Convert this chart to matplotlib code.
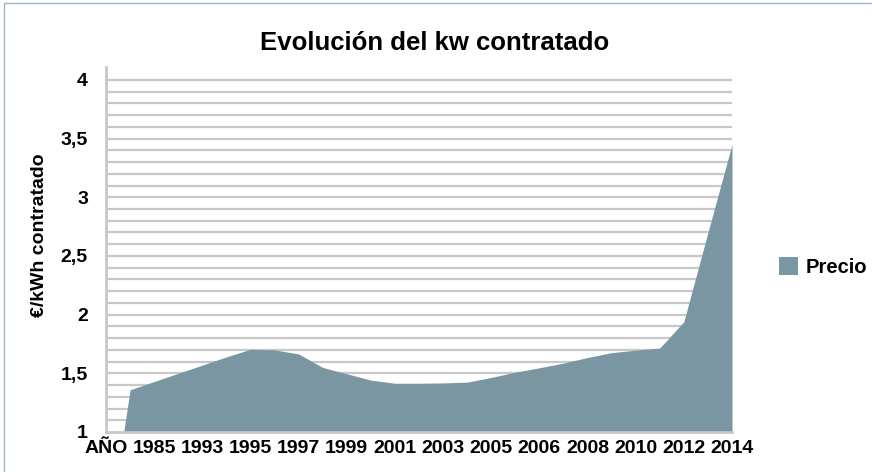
import matplotlib
matplotlib.use("Agg")
import matplotlib.pyplot as plt
from matplotlib.patches import Patch, Rectangle
import numpy as np

plt.rcParams['font.family'] = ['Liberation Sans', 'DejaVu Sans']

# Categories (labels shown every other category, as in the reference)
categories = ["AÑO", "1984", "1985", "1990", "1993", "1994", "1995", "1996", "1997",
              "1998", "1999", "2000", "2001", "2002", "2003", "2004", "2005", "2005 ",
              "2006", "2007", "2008", "2009", "2010", "2011", "2012", "2013", "2014"]
precio = [0.0, 1.36, 1.43, 1.50, 1.57, 1.64, 1.705, 1.70, 1.665,
          1.55, 1.496, 1.442, 1.415, 1.415, 1.418, 1.425, 1.465, 1.51,
          1.547, 1.587, 1.635, 1.676, 1.697, 1.715, 1.94, 2.70, 3.45]
ytick_values = [1, 1.5, 2, 2.5, 3, 3.5, 4]
ytick_labels = ["1", "1,5", "2", "2,5", "3", "3,5", "4"]

W, H = 872, 472
fig = plt.figure(figsize=(W / 100, H / 100), dpi=100)

# outer frame (top and left edges visible)
fig.patches.append(Rectangle((4 / W, -0.1), 1.2, (H - 3) / H + 0.1, transform=fig.transFigure,
                             fill=False, edgecolor='#9fb3c3', linewidth=1.0))

left, right, top, bottom = 106, 732, 67, 432
ax = fig.add_axes([left / W, (H - bottom) / H, (right - left) / W, (bottom - top) / H])

x = np.arange(len(categories))
area_color = '#7a96a2'
ax.fill_between(x, 0, precio, color=area_color, linewidth=0, zorder=3)

ax.set_xlim(0, len(categories) - 1)
ax.set_ylim(1, 4.11)

# gridlines every 0.1 up to 4
minor = np.round(np.arange(1.1, 4.001, 0.1), 2)
for v in minor:
    ax.axhline(v, color='#c8c8c8', linewidth=1.6, zorder=1)

ax.set_yticks(ytick_values)
ax.set_yticklabels(ytick_labels)
ax.set_xticks(x[::2])
ax.set_xticklabels(categories[::2])
ax.tick_params(axis='both', length=0, labelsize=14)
ax.tick_params(axis='y', pad=13)
ax.tick_params(axis='x', pad=6)
for lbl in ax.get_xticklabels() + ax.get_yticklabels():
    lbl.set_fontweight('bold')

for s in ['top', 'right']:
    ax.spines[s].set_visible(False)
ax.spines['left'].set_color('#c8c8c8')
ax.spines['left'].set_linewidth(2)
ax.spines['bottom'].set_color('#c8c8c8')
ax.spines['bottom'].set_linewidth(2)
ax.spines['bottom'].set_zorder(4)

fig.text(435 / W, 1 - 43 / H, "Evolución del kw contratado", ha='center', va='center',
         fontsize=18.5, fontweight='bold')
fig.text(40 / W, 1 - 235 / H, "€/kWh contratado", ha='center', va='center',
         rotation=90, fontsize=14, fontweight='bold')

fig.legend(handles=[Patch(facecolor=area_color, edgecolor='none', label='Precio')],
           loc='center left', bbox_to_anchor=(779 / W, 1 - 267 / H), frameon=False,
           prop={'size': 14.5, 'weight': 'bold'}, handlelength=0.95, handleheight=0.95,
           handletextpad=0.35, borderpad=0, borderaxespad=0)

fig.savefig("out.png", dpi=100)
